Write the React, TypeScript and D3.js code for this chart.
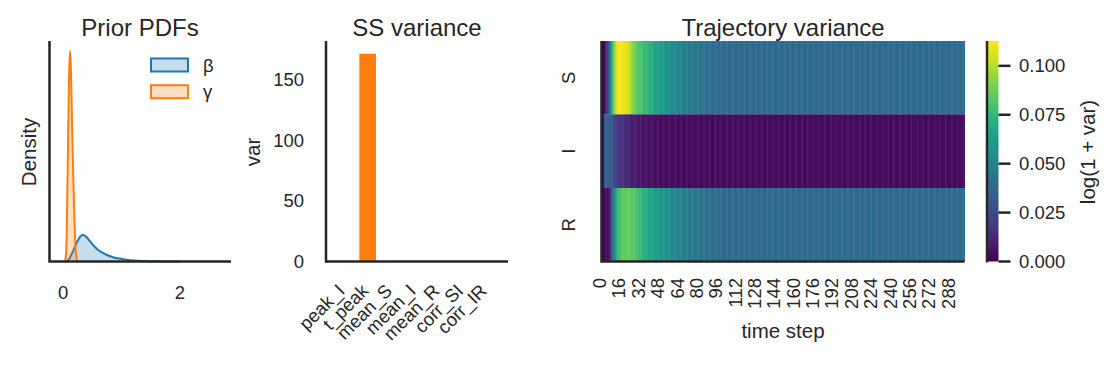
import React, { useRef, useEffect } from 'react';
import * as d3 from 'd3';

const INK = '#262626';
const FONT = '"Liberation Sans", Arial, Helvetica, sans-serif';
const BLUE = '#1f77b4';
const ORANGE = '#ff7f0e';
const TITLE_SIZE = 24;
const LABEL_SIZE = 20.5;
const TICK_SIZE = 18.5;

// prior densities
const betaX = [0.06, 0.1, 0.14, 0.18, 0.22, 0.26, 0.3, 0.34, 0.38, 0.42, 0.46, 0.52, 0.6, 0.68, 0.75, 0.82, 0.89, 0.96, 1.03, 1.15, 1.3, 1.5, 1.7, 2.0];
const betaDensity = [0, 0.25, 0.7, 1.2, 1.75, 2.2, 2.55, 2.65, 2.55, 2.3, 2.0, 1.6, 1.15, 0.85, 0.65, 0.5, 0.38, 0.29, 0.22, 0.13, 0.07, 0.03, 0.01, 0];
const gammaX = [0.02, 0.04, 0.06, 0.08, 0.1, 0.115, 0.13, 0.15, 0.17, 0.19, 0.21, 0.23, 0.25];
const gammaDensity = [0, 0.3, 3, 11, 18.5, 21, 19.5, 14, 9, 4.5, 1.5, 0.3, 0];
const priorLabels = ['β', 'γ'];
const priorTicks = [0, 2];

// summary statistic variance
const ssStats = ['peak_I', 't_peak', 'mean_S', 'mean_I', 'mean_R', 'corr_SI', 'corr_IR'];
const ssVariance = [0.02, 171, 0.01, 0.004, 0.01, 0.001, 0.001];
const ssTicks = [0, 50, 100, 150];

// log(1 + var) per time step, one array per compartment
const trajRows = ['S', 'I', 'R'];
const trajS = [
  0.000, 0.001, 0.002, 0.008, 0.016, 0.026, 0.037, 0.050, 0.064, 0.079,
  0.092, 0.100, 0.106, 0.109, 0.1127, 0.111, 0.111, 0.110, 0.109, 0.108,
  0.107, 0.106, 0.104, 0.100, 0.097, 0.094, 0.091, 0.088, 0.086, 0.084,
  0.083, 0.081, 0.080, 0.079, 0.078, 0.076, 0.075, 0.074, 0.073, 0.072,
  0.071, 0.070, 0.069, 0.068, 0.067, 0.066, 0.066, 0.065, 0.064, 0.063,
  0.062, 0.061, 0.060, 0.059, 0.058, 0.057, 0.056, 0.055, 0.055, 0.054,
  0.053, 0.052, 0.052, 0.051, 0.050, 0.050, 0.049, 0.049, 0.048, 0.048,
  0.047, 0.047, 0.046, 0.046, 0.046, 0.045, 0.045, 0.044, 0.044, 0.044,
  0.043, 0.043, 0.043, 0.042, 0.042, 0.042, 0.042, 0.041, 0.041, 0.041,
  0.041, 0.040, 0.040, 0.040, 0.040, 0.040, 0.039, 0.040, 0.039, 0.039,
  0.039, 0.040, 0.039, 0.038, 0.039, 0.040, 0.039, 0.039, 0.038, 0.039,
  0.040, 0.039, 0.039, 0.038, 0.039, 0.039, 0.040, 0.039, 0.038, 0.039,
  0.039, 0.038, 0.039, 0.040, 0.039, 0.039, 0.038, 0.039, 0.040, 0.039,
  0.038, 0.039, 0.039, 0.040, 0.039, 0.038, 0.039, 0.039, 0.040, 0.039,
  0.039, 0.040, 0.038, 0.039, 0.039, 0.040, 0.039, 0.038, 0.039, 0.039,
  0.040, 0.039, 0.039, 0.038, 0.039, 0.040, 0.039, 0.039, 0.038, 0.039,
  0.039, 0.039, 0.040, 0.039, 0.038, 0.039, 0.039, 0.040, 0.039, 0.038,
  0.039, 0.040, 0.039, 0.039, 0.038, 0.039, 0.040, 0.039, 0.039, 0.039,
  0.038, 0.039, 0.039, 0.040, 0.039, 0.039, 0.038, 0.039, 0.040, 0.039,
  0.039, 0.038, 0.040, 0.039, 0.039, 0.039, 0.038, 0.040, 0.039, 0.039,
  0.040, 0.039, 0.038, 0.039, 0.039, 0.040, 0.039, 0.039, 0.038, 0.039,
  0.039, 0.040, 0.039, 0.038, 0.039, 0.039, 0.040, 0.039, 0.038, 0.039,
  0.038, 0.039, 0.040, 0.039, 0.039, 0.038, 0.039, 0.040, 0.039, 0.039,
  0.039, 0.039, 0.038, 0.040, 0.039, 0.039, 0.040, 0.038, 0.039, 0.039,
  0.040, 0.039, 0.039, 0.038, 0.039, 0.040, 0.039, 0.039, 0.039, 0.038,
  0.039, 0.040, 0.039, 0.039, 0.038, 0.039, 0.039, 0.040, 0.039, 0.039,
  0.038, 0.039, 0.039, 0.040, 0.039, 0.038, 0.039, 0.040, 0.039, 0.039,
  0.039, 0.038, 0.039, 0.039, 0.040, 0.039, 0.039, 0.038, 0.039, 0.040,
  0.039, 0.039, 0.040, 0.038, 0.039, 0.039, 0.040, 0.039, 0.038, 0.039,
  0.040, 0.039, 0.039, 0.039, 0.038, 0.039, 0.040, 0.039, 0.039, 0.039,
];
const trajI = [
  0.001, 0.002, 0.030, 0.033, 0.034, 0.034, 0.033, 0.032, 0.028, 0.026,
  0.025, 0.024, 0.019, 0.018, 0.017, 0.017, 0.016, 0.015, 0.015, 0.014,
  0.014, 0.013, 0.011, 0.010, 0.010, 0.009, 0.009, 0.009, 0.008, 0.008,
  0.008, 0.007, 0.007, 0.006, 0.006, 0.006, 0.005, 0.005, 0.005, 0.005,
  0.005, 0.004, 0.004, 0.004, 0.004, 0.004, 0.004, 0.004, 0.003, 0.004,
  0.003, 0.004, 0.003, 0.003, 0.004, 0.003, 0.003, 0.003, 0.004, 0.003,
  0.003, 0.003, 0.004, 0.003, 0.003, 0.002, 0.003, 0.004, 0.003, 0.003,
  0.003, 0.004, 0.003, 0.003, 0.002, 0.003, 0.003, 0.004, 0.003, 0.003,
  0.004, 0.003, 0.003, 0.003, 0.002, 0.003, 0.004, 0.003, 0.003, 0.003,
  0.003, 0.002, 0.003, 0.004, 0.003, 0.003, 0.003, 0.004, 0.003, 0.002,
  0.003, 0.003, 0.004, 0.003, 0.003, 0.002, 0.003, 0.003, 0.004, 0.003,
  0.003, 0.004, 0.003, 0.002, 0.003, 0.003, 0.003, 0.004, 0.003, 0.003,
  0.002, 0.003, 0.003, 0.004, 0.003, 0.003, 0.003, 0.002, 0.003, 0.004,
  0.003, 0.003, 0.004, 0.003, 0.002, 0.003, 0.003, 0.003, 0.004, 0.003,
  0.003, 0.002, 0.003, 0.003, 0.004, 0.003, 0.003, 0.003, 0.002, 0.003,
  0.004, 0.003, 0.003, 0.003, 0.002, 0.004, 0.003, 0.003, 0.003, 0.003,
  0.003, 0.004, 0.002, 0.003, 0.003, 0.003, 0.004, 0.003, 0.002, 0.003,
  0.003, 0.003, 0.004, 0.003, 0.003, 0.002, 0.003, 0.004, 0.003, 0.003,
  0.002, 0.003, 0.003, 0.003, 0.004, 0.003, 0.003, 0.002, 0.003, 0.003,
  0.004, 0.003, 0.003, 0.003, 0.002, 0.003, 0.004, 0.003, 0.003, 0.003,
  0.003, 0.002, 0.004, 0.003, 0.003, 0.003, 0.003, 0.004, 0.002, 0.003,
  0.003, 0.003, 0.003, 0.004, 0.003, 0.002, 0.003, 0.003, 0.004, 0.003,
  0.002, 0.003, 0.004, 0.003, 0.003, 0.003, 0.002, 0.003, 0.003, 0.004,
  0.003, 0.003, 0.002, 0.003, 0.004, 0.003, 0.003, 0.003, 0.002, 0.003,
  0.004, 0.003, 0.003, 0.002, 0.003, 0.003, 0.004, 0.003, 0.003, 0.003,
  0.003, 0.004, 0.003, 0.003, 0.002, 0.003, 0.003, 0.003, 0.004, 0.003,
  0.002, 0.003, 0.003, 0.004, 0.003, 0.003, 0.003, 0.002, 0.003, 0.004,
  0.003, 0.003, 0.004, 0.002, 0.003, 0.003, 0.003, 0.004, 0.003, 0.003,
  0.003, 0.002, 0.003, 0.003, 0.004, 0.003, 0.003, 0.003, 0.002, 0.003,
  0.004, 0.003, 0.003, 0.003, 0.002, 0.003, 0.004, 0.003, 0.003, 0.003,
];
const trajR = [
  0.001, 0.001, 0.001, 0.002, 0.003, 0.005, 0.009, 0.016, 0.027, 0.040,
  0.052, 0.062, 0.070, 0.075, 0.079, 0.081, 0.083, 0.084, 0.085, 0.085,
  0.086, 0.086, 0.086, 0.085, 0.085, 0.084, 0.083, 0.082, 0.081, 0.080,
  0.078, 0.077, 0.075, 0.074, 0.072, 0.071, 0.070, 0.069, 0.068, 0.067,
  0.066, 0.065, 0.064, 0.064, 0.063, 0.062, 0.062, 0.061, 0.060, 0.060,
  0.059, 0.058, 0.058, 0.057, 0.056, 0.056, 0.055, 0.054, 0.054, 0.053,
  0.052, 0.052, 0.051, 0.051, 0.050, 0.050, 0.049, 0.049, 0.048, 0.048,
  0.047, 0.047, 0.047, 0.046, 0.046, 0.045, 0.045, 0.045, 0.044, 0.044,
  0.044, 0.043, 0.043, 0.043, 0.042, 0.042, 0.042, 0.042, 0.041, 0.041,
  0.041, 0.041, 0.040, 0.040, 0.040, 0.040, 0.040, 0.039, 0.040, 0.039,
  0.039, 0.039, 0.040, 0.039, 0.038, 0.039, 0.039, 0.040, 0.039, 0.039,
  0.038, 0.039, 0.040, 0.039, 0.039, 0.039, 0.038, 0.039, 0.040, 0.039,
  0.039, 0.040, 0.039, 0.038, 0.039, 0.039, 0.039, 0.040, 0.039, 0.038,
  0.039, 0.039, 0.040, 0.039, 0.039, 0.038, 0.039, 0.039, 0.040, 0.039,
  0.040, 0.039, 0.038, 0.039, 0.039, 0.040, 0.039, 0.039, 0.038, 0.039,
  0.039, 0.040, 0.039, 0.039, 0.038, 0.039, 0.040, 0.039, 0.039, 0.038,
  0.039, 0.039, 0.038, 0.040, 0.039, 0.039, 0.039, 0.040, 0.038, 0.039,
  0.040, 0.039, 0.039, 0.039, 0.038, 0.039, 0.039, 0.040, 0.039, 0.039,
  0.039, 0.038, 0.039, 0.039, 0.040, 0.039, 0.038, 0.039, 0.039, 0.040,
  0.039, 0.039, 0.040, 0.038, 0.039, 0.039, 0.039, 0.040, 0.039, 0.038,
  0.038, 0.039, 0.039, 0.040, 0.039, 0.039, 0.038, 0.039, 0.040, 0.039,
  0.039, 0.040, 0.039, 0.039, 0.038, 0.039, 0.040, 0.039, 0.039, 0.038,
  0.040, 0.039, 0.038, 0.039, 0.039, 0.040, 0.039, 0.038, 0.039, 0.039,
  0.039, 0.039, 0.040, 0.039, 0.038, 0.039, 0.039, 0.040, 0.039, 0.039,
  0.038, 0.039, 0.039, 0.040, 0.039, 0.039, 0.038, 0.040, 0.039, 0.039,
  0.039, 0.040, 0.039, 0.038, 0.039, 0.039, 0.040, 0.039, 0.039, 0.038,
  0.039, 0.039, 0.038, 0.039, 0.040, 0.039, 0.039, 0.039, 0.038, 0.040,
  0.040, 0.039, 0.039, 0.038, 0.039, 0.040, 0.039, 0.039, 0.039, 0.038,
  0.039, 0.038, 0.040, 0.039, 0.039, 0.039, 0.040, 0.038, 0.039, 0.039,
  0.039, 0.040, 0.039, 0.039, 0.038, 0.039, 0.039, 0.040, 0.039, 0.039,
];
const timeTicks = [0, 16, 32, 48, 64, 80, 96, 112, 128, 144, 160, 176, 192, 208, 224, 240, 256, 272, 288];
const colorbarTicks = [0, 0.025, 0.05, 0.075, 0.1];

export default function App() {
  const svgRef = useRef<SVGSVGElement>(null);

  useEffect(() => {
    if (!svgRef.current) return;
    const svg = d3.select(svgRef.current);
    svg.selectAll('*').remove();

    const addText = (g, x, y, str, size, anchor = 'middle', rotate = 0, baseline = 'auto') =>
      g
        .append('text')
        .attr('transform', `translate(${x},${y}) rotate(${rotate})`)
        .attr('text-anchor', anchor)
        .attr('dominant-baseline', baseline)
        .attr('font-size', size)
        .attr('fill', INK)
        .text(str);

    const spines = (g, left, right, top, bottom) => {
      g.append('path')
        .attr('d', `M${left},${top}V${bottom}H${right}`)
        .attr('fill', 'none')
        .attr('stroke', INK)
        .attr('stroke-width', 2.5);
    };

    // ---- Prior PDFs
    const prior = svg.append('g');
    const pBox = { left: 49.5, right: 231, top: 41, bottom: 261.5 };
    const px = d3.scaleLinear().domain([-0.236, 2.878]).range([pBox.left, pBox.right]);
    const py = d3.scaleLinear().domain([0, 22]).range([pBox.bottom, pBox.top]);
    const area = d3
      .area<number[]>()
      .x((d) => px(d[0]))
      .y0(py(0))
      .y1((d) => py(d[1]))
      .curve(d3.curveMonotoneX);
    const line = d3
      .line<number[]>()
      .x((d) => px(d[0]))
      .y((d) => py(d[1]))
      .curve(d3.curveMonotoneX);
    const priors = [
      { name: priorLabels[0], xs: betaX, ys: betaDensity, color: BLUE },
      { name: priorLabels[1], xs: gammaX, ys: gammaDensity, color: ORANGE },
    ];
    priors.forEach((s) => {
      const pts = s.xs.map((x, i) => [x, s.ys[i]]);
      prior.append('path').attr('d', area(pts)).attr('fill', s.color).attr('fill-opacity', 0.25);
      prior
        .append('path')
        .attr('d', line(pts))
        .attr('fill', 'none')
        .attr('stroke', s.color)
        .attr('stroke-width', 2);
    });
    spines(prior, pBox.left, pBox.right, pBox.top, pBox.bottom);
    priorTicks.forEach((t) => addText(prior, px(t), 292, t, TICK_SIZE, 'middle', 0, 'central'));
    addText(prior, 140, 36, 'Prior PDFs', TITLE_SIZE);
    addText(prior, 28, 152, 'Density', LABEL_SIZE, 'middle', -90, 'central');
    priors.forEach((s, i) => {
      const ly = 58.5 + i * 26.7;
      prior
        .append('rect')
        .attr('x', 151)
        .attr('y', ly)
        .attr('width', 37)
        .attr('height', 13)
        .attr('fill', s.color)
        .attr('fill-opacity', 0.25)
        .attr('stroke', s.color)
        .attr('stroke-width', 2);
      addText(prior, 203, ly + 6.5, s.name, TICK_SIZE, 'start', 0, 'central');
    });

    // ---- SS variance
    const ss = svg.append('g');
    const sBox = { left: 326, right: 508, top: 41, bottom: 261.5 };
    const sx = d3.scalePoint().domain(ssStats).range([344, 486]);
    const sy = d3.scaleLinear().domain([0, 181.5]).range([sBox.bottom, sBox.top]);
    const barW = sx.step() * 0.705;
    ss.selectAll('rect')
      .data(ssStats)
      .join('rect')
      .attr('x', (d) => sx(d) - barW / 2)
      .attr('y', (d, i) => sy(ssVariance[i]))
      .attr('width', barW)
      .attr('height', (d, i) => sy(0) - sy(ssVariance[i]))
      .attr('fill', ORANGE);
    spines(ss, sBox.left, sBox.right, sBox.top, sBox.bottom);
    ssTicks.forEach((t) => addText(ss, 304, sy(t), t, TICK_SIZE, 'end', 0, 'central'));
    ssStats.forEach((s) => addText(ss, sx(s) + 2, 292, s, TICK_SIZE, 'end', -45));
    addText(ss, 417, 36, 'SS variance', TITLE_SIZE);
    addText(ss, 252.5, 152, 'var', LABEL_SIZE, 'middle', -90, 'central');

    // ---- Trajectory variance heatmap
    const traj = svg.append('g');
    const hBox = { left: 601.5, right: 964.5, top: 41, bottom: 261.5 };
    const rows = [trajS, trajI, trajR];
    const steps = d3.range(trajS.length);
    const hx = d3.scaleBand<number>().domain(steps).range([hBox.left, hBox.right]);
    const hy = d3.scaleBand().domain(trajRows).range([hBox.top, hBox.bottom]);
    const all = rows.flat();
    const color = d3.scaleSequential(d3.interpolateViridis).domain(d3.extent(all) as [number, number]);
    trajRows.forEach((r, ri) => {
      traj
        .append('g')
        .selectAll('rect')
        .data(rows[ri])
        .join('rect')
        .attr('x', (d, i) => hx(i))
        .attr('y', hy(r))
        .attr('width', hx.bandwidth() + 0.5)
        .attr('height', hy.bandwidth())
        .attr('fill', (d) => color(d));
    });
    spines(traj, hBox.left, hBox.right, hBox.top, hBox.bottom);
    trajRows.forEach((r) => addText(traj, 568, hy(r) + hy.bandwidth() / 2, r, TICK_SIZE, 'middle', -90, 'central'));
    timeTicks.forEach((t) => addText(traj, hx(t) + hx.bandwidth() / 2 - 2.5, 278, t, TICK_SIZE, 'end', -90, 'central'));
    addText(traj, 783, 338, 'time step', LABEL_SIZE);
    addText(traj, 783, 36, 'Trajectory variance', TITLE_SIZE);

    // ---- colorbar
    const cb = svg.append('g');
    const cBox = { left: 988, right: 998.5, top: 41, bottom: 261.5 };
    const cy = d3.scaleLinear().domain(color.domain()).range([cBox.bottom, cBox.top]);
    const grad = svg
      .append('defs')
      .append('linearGradient')
      .attr('id', 'cbar')
      .attr('x1', 0)
      .attr('y1', 1)
      .attr('x2', 0)
      .attr('y2', 0);
    d3.range(0, 1.0001, 0.05).forEach((t) =>
      grad.append('stop').attr('offset', t).attr('stop-color', d3.interpolateViridis(t))
    );
    cb.append('rect')
      .attr('x', cBox.left)
      .attr('y', cBox.top)
      .attr('width', cBox.right - cBox.left)
      .attr('height', cBox.bottom - cBox.top)
      .attr('fill', 'url(#cbar)');
    cb.append('line')
      .attr('x1', cBox.left - 1)
      .attr('x2', cBox.left - 1)
      .attr('y1', cBox.top)
      .attr('y2', cBox.bottom + 1)
      .attr('stroke', INK)
      .attr('stroke-width', 2.5);
    colorbarTicks.forEach((t) => {
      cb.append('line')
        .attr('x1', cBox.right)
        .attr('x2', cBox.right + 12)
        .attr('y1', cy(t))
        .attr('y2', cy(t))
        .attr('stroke', INK)
        .attr('stroke-width', 2.5);
      addText(cb, 1019, cy(t), d3.format('.3f')(t), TICK_SIZE, 'start', 0, 'central');
    });
    addText(cb, 1087, 152, 'log(1 + var)', LABEL_SIZE, 'middle', -90, 'central');
  }, []);

  return (
    <svg
      ref={svgRef}
      width={1120}
      height={365}
      style={{ position: 'absolute', left: 0, top: 0, background: '#fff', fontFamily: FONT }}
    />
  );
}
